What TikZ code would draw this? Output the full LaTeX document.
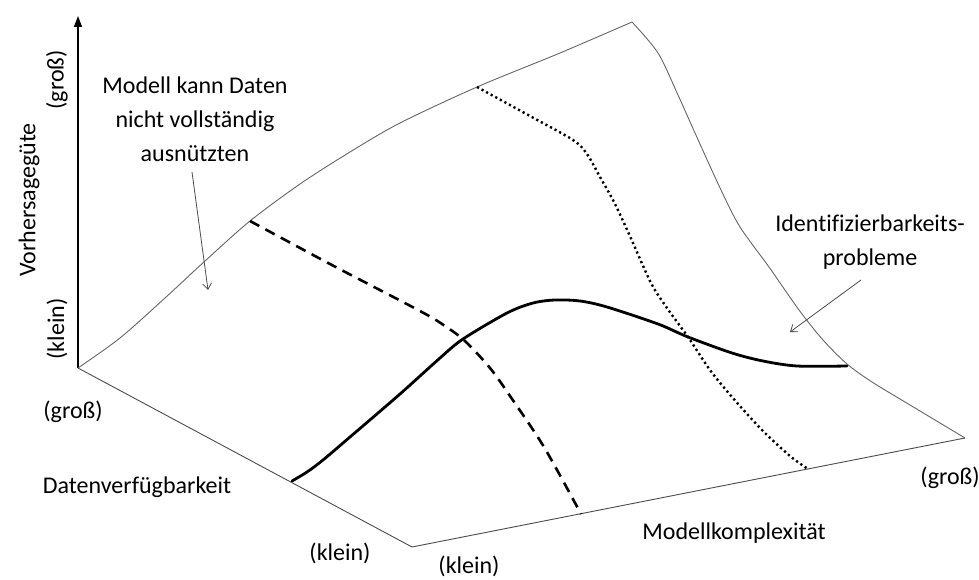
\documentclass[tikz,border=0pt]{standalone}
\usepackage{fontspec}
\setmainfont{Carlito}[Ligatures=CommonOff]
\usetikzlibrary{arrows.meta}
\begin{document}
\begin{tikzpicture}[x=1pt,y=-1pt,
  edge/.style={draw=black!60, line width=0.9pt, line join=round},
  base/.style={draw=black!70, line width=0.9pt},
  axisline/.style={draw=black, line width=1.4pt, -{Triangle[length=11pt,width=8pt]}},
  thickline/.style={draw=black, line width=2.8pt, line cap=round},
  dashedline/.style={draw=black, line width=2.6pt, dash pattern=on 10.5pt off 7pt},
  dottedline/.style={draw=black, line width=2.4pt, dash pattern=on 2.2pt off 3pt},
  note/.style={draw=black!70, line width=0.8pt, -{Straight Barb[length=6pt,width=9pt]}},
  lbl/.style={font=\fontsize{24}{34}\selectfont, inner sep=0pt, align=center}
]
\fill[white] (0,0) rectangle (979,580);
\useasboundingbox (0,0) rectangle (979,580);

% corners
\coordinate (O) at (78,368);
\coordinate (T) at (78,16);
\coordinate (B) at (412,547);
\coordinate (R) at (965,438);
\coordinate (C) at (632,22);

% axis
\draw[axisline] (O) -- (T);

% base plane edges
\draw[base] (O) -- (B) -- (R);

% surface back edges
\draw[edge] plot[smooth] coordinates {(78,368) (120,338) (165,298) (205,261) (250,221) (300,184) (350,152) (400,123) (477,87) (560,53) (632,22)};
\draw[edge] plot[smooth] coordinates {(632,22) (658,53) (678,95) (695,133) (721,190) (740,227) (769,267) (799,310) (823,340) (847,364) (872,382) (910,405) (965,438)};

% dashed curve
\draw[dashedline] plot[smooth] coordinates {(250,221) (330,264) (420,311) (445,326) (465,341) (490,368) (510,396) (544,447) (581,514)};

% dotted curve
\draw[dottedline] plot[smooth] coordinates {(477,87) (530,116) (573,140) (587,154) (600,177) (614,202) (629,234) (651,283) (667,308) (688,337) (710,370) (732,397) (762,430) (790,456) (808,469)};

% solid curve
\draw[thickline] plot[smooth] coordinates {(292,481) (307,472) (323,460) (350,437) (400,394) (440,358) (463,339) (507,313) (533,303) (555,300) (580,301) (607,307) (658,324) (688,337) (732,353) (763,361) (797,366) (847,366)};

% labels
\node[lbl, rotate=90] (ygross) at (57,80) {(groß)};
\node[lbl, rotate=90] (yname) at (29,200) {Vorhersagegüte};
\node[lbl, rotate=90] (yklein) at (57,329) {(klein)};

\node[lbl] (dgross) at (73,412) {(groß)};
\node[lbl] (dname) at (137,487) {Datenverfügbarkeit};
\node[lbl] (dklein) at (340,553) {(klein)};

\node[lbl] (mklein) at (469,566) {(klein)};
\node[lbl] (mname) at (734,533) {Modellkomplexität};
\node[lbl] (mgross) at (950,478) {(groß)};

\node[lbl] (note1) at (195,119) {Modell kann Daten\\nicht vollständig\\ausnützten};
\node[lbl] (note2) at (870,242) {Identifizierbarkeits-\\probleme};

% annotation arrows
\coordinate (n1s) at (192,172);
\coordinate (n1e) at (208,290);
\coordinate (n2s) at (861,280);
\coordinate (n2e) at (790,332);
\draw[note] (n1s) -- (n1e);
\draw[note] (n2s) -- (n2e);
\end{tikzpicture}
\end{document}
